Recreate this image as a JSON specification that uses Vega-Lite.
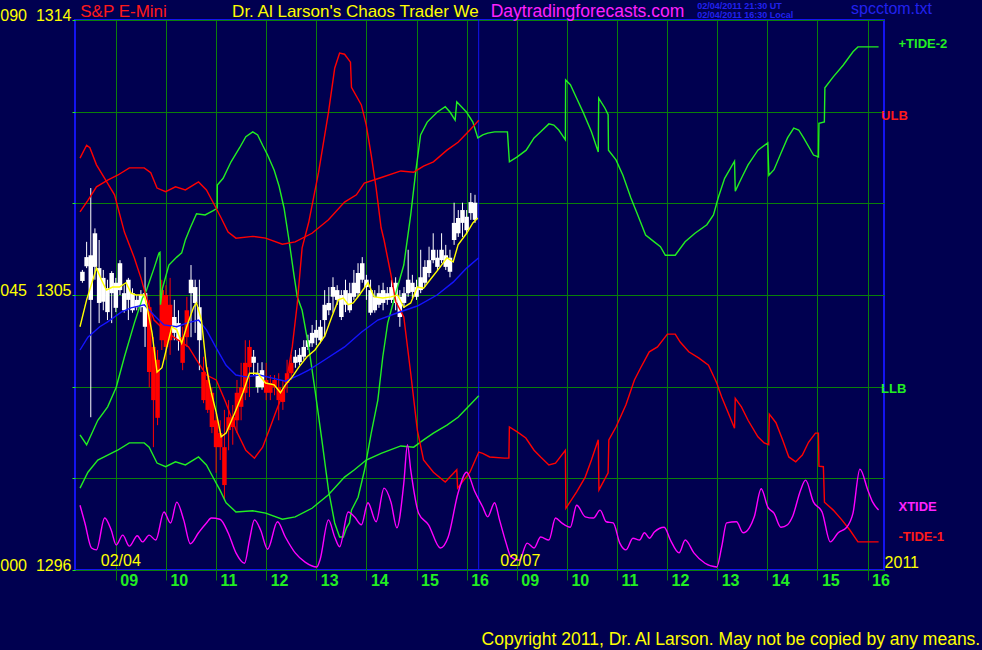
{
"$schema":"https://vega.github.io/schema/vega-lite/v6.json",
"width":809,"height":550,
"autosize":{"type":"none"},
"padding":{"left":75,"top":20,"right":98,"bottom":80},
"background":"#000050",
"config":{"view":{"stroke":"#1414f0","strokeWidth":2},"font":"Liberation Sans"},
"resolve":{"scale":{"color":"independent"}},
"datasets":{
"candles":[
{"t":0.333,"lo":47.0,"hi":49.1,"bt":48.8,"bb":47.3,"d":"bull"},
{"t":0.417,"lo":49.4,"hi":53.7,"bt":51.2,"bb":49.7,"d":"bull"},
{"t":0.5,"lo":25.0,"hi":62.5,"bt":51.5,"bb":44.2,"d":"bull"},
{"t":0.583,"lo":47.5,"hi":55.9,"bt":55.1,"bb":49.6,"d":"bull"},
{"t":0.667,"lo":40.4,"hi":54.0,"bt":49.4,"bb":43.7,"d":"bull"},
{"t":0.75,"lo":42.5,"hi":49.1,"bt":47.8,"bb":43.9,"d":"bull"},
{"t":0.833,"lo":40.9,"hi":47.5,"bt":46.1,"bb":42.2,"d":"bull"},
{"t":0.917,"lo":40.4,"hi":48.9,"bt":48.6,"bb":45.3,"d":"bull"},
{"t":1.0,"lo":42.2,"hi":47.8,"bt":47.0,"bb":42.9,"d":"bull"},
{"t":1.083,"lo":45.0,"hi":50.7,"bt":50.2,"bb":45.8,"d":"bull"},
{"t":1.167,"lo":42.1,"hi":46.6,"bt":45.3,"bb":42.5,"d":"bull"},
{"t":1.25,"lo":40.9,"hi":47.8,"bt":47.5,"bb":44.2,"d":"bull"},
{"t":1.333,"lo":42.1,"hi":46.1,"bt":45.3,"bb":42.5,"d":"bull"},
{"t":1.417,"lo":42.5,"hi":45.0,"bt":44.2,"bb":43.0,"d":"bull"},
{"t":1.5,"lo":42.2,"hi":45.8,"bt":45.0,"bb":43.0,"d":"bull"},
{"t":1.583,"lo":36.5,"hi":51.2,"bt":45.3,"bb":39.8,"d":"bull"},
{"t":1.667,"lo":29.9,"hi":44.2,"bt":43.0,"bb":32.4,"d":"bear"},
{"t":1.75,"lo":20.1,"hi":38.1,"bt":36.5,"bb":27.8,"d":"bear"},
{"t":1.833,"lo":23.7,"hi":36.0,"bt":34.4,"bb":24.9,"d":"bear"},
{"t":1.917,"lo":36.0,"hi":47.5,"bt":45.8,"bb":37.6,"d":"bear"},
{"t":2.0,"lo":34.4,"hi":46.6,"bt":45.0,"bb":36.5,"d":"bear"},
{"t":2.083,"lo":35.2,"hi":47.8,"bt":43.4,"bb":37.6,"d":"bear"},
{"t":2.167,"lo":37.6,"hi":44.2,"bt":41.4,"bb":38.8,"d":"bull"},
{"t":2.25,"lo":35.9,"hi":42.5,"bt":40.4,"bb":37.6,"d":"bull"},
{"t":2.333,"lo":32.7,"hi":39.8,"bt":38.1,"bb":33.9,"d":"bear"},
{"t":2.417,"lo":36.5,"hi":44.7,"bt":42.5,"bb":38.1,"d":"bear"},
{"t":2.5,"lo":38.1,"hi":49.9,"bt":47.5,"bb":45.3,"d":"bull"},
{"t":2.583,"lo":38.8,"hi":47.5,"bt":46.3,"bb":43.7,"d":"bull"},
{"t":2.667,"lo":32.7,"hi":47.5,"bt":43.0,"bb":37.6,"d":"bull"},
{"t":2.75,"lo":27.3,"hi":34.9,"bt":32.4,"bb":27.8,"d":"bear"},
{"t":2.833,"lo":25.7,"hi":33.2,"bt":31.1,"bb":26.2,"d":"bear"},
{"t":2.917,"lo":22.4,"hi":29.9,"bt":29.0,"bb":23.4,"d":"bear"},
{"t":3.0,"lo":15.9,"hi":25.7,"bt":24.5,"bb":20.1,"d":"bear"},
{"t":3.083,"lo":18.0,"hi":24.5,"bt":22.4,"bb":20.1,"d":"bear"},
{"t":3.167,"lo":11.5,"hi":26.2,"bt":20.1,"bb":13.9,"d":"bear"},
{"t":3.25,"lo":19.6,"hi":27.8,"bt":25.0,"bb":22.9,"d":"bear"},
{"t":3.333,"lo":20.5,"hi":27.0,"bt":25.0,"bb":23.4,"d":"bear"},
{"t":3.417,"lo":22.4,"hi":31.1,"bt":29.0,"bb":24.5,"d":"bear"},
{"t":3.5,"lo":24.5,"hi":33.9,"bt":29.9,"bb":26.7,"d":"bear"},
{"t":3.583,"lo":27.8,"hi":37.6,"bt":33.9,"bb":29.0,"d":"bear"},
{"t":3.667,"lo":28.3,"hi":37.6,"bt":36.5,"bb":33.2,"d":"bear"},
{"t":3.75,"lo":31.9,"hi":36.0,"bt":34.9,"bb":33.9,"d":"bull"},
{"t":3.833,"lo":29.0,"hi":33.9,"bt":32.2,"bb":29.9,"d":"bull"},
{"t":3.917,"lo":29.5,"hi":34.0,"bt":32.7,"bb":29.9,"d":"bull"},
{"t":4.0,"lo":27.8,"hi":33.9,"bt":31.1,"bb":29.0,"d":"bear"},
{"t":4.083,"lo":27.8,"hi":31.9,"bt":30.6,"bb":29.0,"d":"bear"},
{"t":4.167,"lo":28.6,"hi":31.9,"bt":31.1,"bb":29.9,"d":"bear"},
{"t":4.25,"lo":24.5,"hi":32.2,"bt":29.9,"bb":27.8,"d":"bear"},
{"t":4.333,"lo":26.2,"hi":31.1,"bt":29.5,"bb":27.5,"d":"bear"},
{"t":4.417,"lo":29.0,"hi":34.4,"bt":32.2,"bb":30.6,"d":"bear"},
{"t":4.5,"lo":31.1,"hi":35.2,"bt":33.9,"bb":32.2,"d":"bear"},
{"t":4.583,"lo":33.1,"hi":36.0,"bt":34.9,"bb":33.9,"d":"bull"},
{"t":4.667,"lo":33.5,"hi":36.3,"bt":35.2,"bb":34.0,"d":"bull"},
{"t":4.75,"lo":34.4,"hi":37.6,"bt":36.5,"bb":34.9,"d":"bull"},
{"t":4.833,"lo":36.0,"hi":38.5,"bt":37.6,"bb":36.5,"d":"bull"},
{"t":4.917,"lo":36.5,"hi":40.1,"bt":38.8,"bb":37.1,"d":"bull"},
{"t":5.0,"lo":36.8,"hi":40.9,"bt":39.3,"bb":38.0,"d":"bull"},
{"t":5.083,"lo":37.1,"hi":40.9,"bt":39.8,"bb":37.6,"d":"bull"},
{"t":5.167,"lo":38.1,"hi":45.8,"bt":43.4,"bb":40.9,"d":"bull"},
{"t":5.25,"lo":41.7,"hi":46.3,"bt":43.7,"bb":42.5,"d":"bull"},
{"t":5.333,"lo":42.1,"hi":47.9,"bt":46.3,"bb":44.7,"d":"bull"},
{"t":5.417,"lo":43.4,"hi":46.6,"bt":45.8,"bb":44.2,"d":"bull"},
{"t":5.5,"lo":40.9,"hi":45.8,"bt":45.0,"bb":41.4,"d":"bull"},
{"t":5.583,"lo":42.2,"hi":47.5,"bt":45.8,"bb":43.4,"d":"bull"},
{"t":5.667,"lo":42.1,"hi":47.0,"bt":45.3,"bb":42.5,"d":"bull"},
{"t":5.75,"lo":44.2,"hi":49.1,"bt":47.0,"bb":44.7,"d":"bull"},
{"t":5.833,"lo":44.7,"hi":50.2,"bt":48.6,"bb":45.3,"d":"bull"},
{"t":5.917,"lo":47.0,"hi":51.2,"bt":50.2,"bb":47.5,"d":"bull"},
{"t":6.0,"lo":44.2,"hi":48.3,"bt":47.5,"bb":46.3,"d":"bull"},
{"t":6.083,"lo":41.7,"hi":47.5,"bt":45.8,"bb":42.1,"d":"bull"},
{"t":6.167,"lo":42.1,"hi":45.8,"bt":44.7,"bb":42.5,"d":"bull"},
{"t":6.25,"lo":42.9,"hi":46.6,"bt":45.3,"bb":43.4,"d":"bull"},
{"t":6.333,"lo":42.5,"hi":47.0,"bt":45.8,"bb":43.7,"d":"bull"},
{"t":6.417,"lo":43.4,"hi":46.3,"bt":45.3,"bb":44.2,"d":"bull"},
{"t":6.5,"lo":43.7,"hi":47.5,"bt":46.3,"bb":44.2,"d":"bull"},
{"t":6.583,"lo":42.5,"hi":47.9,"bt":47.0,"bb":43.7,"d":"bull"},
{"t":6.667,"lo":39.8,"hi":45.8,"bt":44.7,"bb":41.4,"d":"bull"},
{"t":6.75,"lo":42.9,"hi":46.3,"bt":45.3,"bb":43.7,"d":"bull"},
{"t":6.833,"lo":44.7,"hi":52.4,"bt":47.5,"bb":45.3,"d":"bull"},
{"t":6.917,"lo":44.5,"hi":48.3,"bt":47.0,"bb":45.5,"d":"bull"},
{"t":7.0,"lo":44.2,"hi":47.5,"bt":46.3,"bb":44.7,"d":"bull"},
{"t":7.083,"lo":45.3,"hi":52.4,"bt":47.9,"bb":45.8,"d":"bull"},
{"t":7.167,"lo":46.3,"hi":50.7,"bt":49.6,"bb":47.0,"d":"bull"},
{"t":7.25,"lo":47.9,"hi":52.9,"bt":50.7,"bb":48.6,"d":"bull"},
{"t":7.333,"lo":50.2,"hi":55.1,"bt":52.4,"bb":50.7,"d":"bull"},
{"t":7.417,"lo":49.1,"hi":52.4,"bt":51.1,"bb":49.6,"d":"bull"},
{"t":7.5,"lo":50.2,"hi":55.1,"bt":52.4,"bb":50.7,"d":"bull"},
{"t":7.583,"lo":49.1,"hi":53.2,"bt":51.5,"bb":49.6,"d":"bull"},
{"t":7.667,"lo":47.9,"hi":52.4,"bt":51.1,"bb":48.8,"d":"bull"},
{"t":7.75,"lo":53.2,"hi":60.1,"bt":56.8,"bb":54.0,"d":"bull"},
{"t":7.833,"lo":54.5,"hi":58.9,"bt":57.6,"bb":55.1,"d":"bull"},
{"t":7.917,"lo":54.5,"hi":60.1,"bt":58.9,"bb":56.8,"d":"bull"},
{"t":8.0,"lo":55.1,"hi":58.9,"bt":57.8,"bb":55.6,"d":"bull"},
{"t":8.083,"lo":57.3,"hi":61.7,"bt":60.2,"bb":58.4,"d":"bull"},
{"t":8.167,"lo":56.8,"hi":61.4,"bt":60.1,"bb":57.3,"d":"bull"}
],
"tides":[
{"s":"tide2","t":0.285,"v":22.1},{"s":"tide2","t":0.417,"v":20.5},{"s":"tide2","t":0.64,"v":24.5},{"s":"tide2","t":0.837,"v":26.7},{"s":"tide2","t":1.008,"v":29.9},{"s":"tide2","t":1.172,"v":34.9},{"s":"tide2","t":1.369,"v":40.4},{"s":"tide2","t":1.532,"v":44.5},{"s":"tide2","t":1.599,"v":45.5},{"s":"tide2","t":1.763,"v":49.4},{"s":"tide2","t":1.862,"v":51.9},{"s":"tide2","t":1.881,"v":52.0},{"s":"tide2","t":1.891,"v":43.4},{"s":"tide2","t":1.93,"v":46.1},{"s":"tide2","t":2.059,"v":49.9},{"s":"tide2","t":2.216,"v":51.2},{"s":"tide2","t":2.314,"v":51.9},{"s":"tide2","t":2.387,"v":54.0},{"s":"tide2","t":2.486,"v":56.0},{"s":"tide2","t":2.61,"v":58.3},{"s":"tide2","t":2.781,"v":58.1},{"s":"tide2","t":2.944,"v":58.8},{"s":"tide2","t":3.023,"v":59.2},{"s":"tide2","t":3.025,"v":63.0},{"s":"tide2","t":3.141,"v":64.1},{"s":"tide2","t":3.299,"v":66.8},{"s":"tide2","t":3.47,"v":69.1},{"s":"tide2","t":3.594,"v":70.9},{"s":"tide2","t":3.732,"v":71.7},{"s":"tide2","t":3.83,"v":71.2},{"s":"tide2","t":3.929,"v":69.5},{"s":"tide2","t":4.028,"v":67.9},{"s":"tide2","t":4.16,"v":65.4},{"s":"tide2","t":4.258,"v":62.8},{"s":"tide2","t":4.357,"v":59.2},{"s":"tide2","t":4.455,"v":54.0},{"s":"tide2","t":4.554,"v":48.3},{"s":"tide2","t":4.62,"v":44.7},{"s":"tide2","t":4.717,"v":42.5},{"s":"tide2","t":4.849,"v":36.5},{"s":"tide2","t":4.973,"v":29.5},{"s":"tide2","t":5.111,"v":21.3},{"s":"tide2","t":5.243,"v":13.1},{"s":"tide2","t":5.367,"v":7.7},{"s":"tide2","t":5.465,"v":5.4},{"s":"tide2","t":5.538,"v":5.4},{"s":"tide2","t":5.603,"v":6.9},{"s":"tide2","t":5.662,"v":7.7},{"s":"tide2","t":5.702,"v":9.8},{"s":"tide2","t":5.834,"v":11.9},{"s":"tide2","t":5.964,"v":16.4},{"s":"tide2","t":6.096,"v":22.4},{"s":"tide2","t":6.228,"v":27.8},{"s":"tide2","t":6.327,"v":34.9},{"s":"tide2","t":6.425,"v":40.4},{"s":"tide2","t":6.569,"v":44.8},{"s":"tide2","t":6.746,"v":49.9},{"s":"tide2","t":6.884,"v":58.1},{"s":"tide2","t":6.983,"v":65.1},{"s":"tide2","t":7.081,"v":71.2},{"s":"tide2","t":7.213,"v":73.3},{"s":"tide2","t":7.41,"v":74.9},{"s":"tide2","t":7.573,"v":75.8},{"s":"tide2","t":7.671,"v":74.9},{"s":"tide2","t":7.77,"v":73.6},{"s":"tide2","t":7.803,"v":76.6},{"s":"tide2","t":8.0,"v":74.9},{"s":"tide2","t":8.124,"v":73.3},{"s":"tide2","t":8.223,"v":70.7},{"s":"tide2","t":8.321,"v":71.2},{"s":"tide2","t":8.42,"v":71.5},{"s":"tide2","t":8.558,"v":71.7},{"s":"tide2","t":8.814,"v":71.7},{"s":"tide2","t":8.853,"v":66.8},{"s":"tide2","t":9.01,"v":67.6},{"s":"tide2","t":9.188,"v":68.7},{"s":"tide2","t":9.345,"v":70.7},{"s":"tide2","t":9.477,"v":71.7},{"s":"tide2","t":9.641,"v":73.0},{"s":"tide2","t":9.74,"v":72.8},{"s":"tide2","t":9.838,"v":72.0},{"s":"tide2","t":9.97,"v":70.4},{"s":"tide2","t":9.975,"v":80.2},{"s":"tide2","t":10.07,"v":79.4},{"s":"tide2","t":10.195,"v":77.2},{"s":"tide2","t":10.33,"v":74.8},{"s":"tide2","t":10.49,"v":71.7},{"s":"tide2","t":10.626,"v":68.4},{"s":"tide2","t":10.635,"v":77.2},{"s":"tide2","t":10.758,"v":75.6},{"s":"tide2","t":10.823,"v":74.5},{"s":"tide2","t":10.83,"v":68.7},{"s":"tide2","t":10.98,"v":67.1},{"s":"tide2","t":11.118,"v":64.6},{"s":"tide2","t":11.276,"v":60.9},{"s":"tide2","t":11.414,"v":58.1},{"s":"tide2","t":11.571,"v":54.8},{"s":"tide2","t":11.743,"v":53.7},{"s":"tide2","t":11.867,"v":52.9},{"s":"tide2","t":11.965,"v":51.5},{"s":"tide2","t":12.162,"v":51.5},{"s":"tide2","t":12.359,"v":53.7},{"s":"tide2","t":12.556,"v":55.1},{"s":"tide2","t":12.793,"v":56.5},{"s":"tide2","t":12.925,"v":58.1},{"s":"tide2","t":13.023,"v":61.0},{"s":"tide2","t":13.148,"v":64.1},{"s":"tide2","t":13.345,"v":66.9},{"s":"tide2","t":13.36,"v":62.0},{"s":"tide2","t":13.483,"v":64.1},{"s":"tide2","t":13.615,"v":66.3},{"s":"tide2","t":13.812,"v":68.7},{"s":"tide2","t":14.009,"v":69.9},{"s":"tide2","t":14.03,"v":64.6},{"s":"tide2","t":14.133,"v":65.5},{"s":"tide2","t":14.271,"v":68.2},{"s":"tide2","t":14.403,"v":70.7},{"s":"tide2","t":14.527,"v":72.3},{"s":"tide2","t":14.626,"v":72.0},{"s":"tide2","t":14.724,"v":70.7},{"s":"tide2","t":14.921,"v":67.9},{"s":"tide2","t":15.02,"v":67.6},{"s":"tide2","t":15.03,"v":73.1},{"s":"tide2","t":15.138,"v":73.3},{"s":"tide2","t":15.148,"v":78.9},{"s":"tide2","t":15.315,"v":80.7},{"s":"tide2","t":15.512,"v":82.6},{"s":"tide2","t":15.709,"v":84.8},{"s":"tide2","t":15.808,"v":85.6},{"s":"tide2","t":16.22,"v":85.6},
{"s":"llb","t":0.285,"v":13.4},{"s":"llb","t":0.443,"v":16.0},{"s":"llb","t":0.64,"v":18.0},{"s":"llb","t":0.837,"v":18.8},{"s":"llb","t":1.034,"v":19.6},{"s":"llb","t":1.27,"v":20.8},{"s":"llb","t":1.566,"v":20.8},{"s":"llb","t":1.665,"v":20.1},{"s":"llb","t":1.822,"v":17.5},{"s":"llb","t":1.994,"v":16.9},{"s":"llb","t":2.191,"v":17.7},{"s":"llb","t":2.388,"v":17.2},{"s":"llb","t":2.65,"v":18.5},{"s":"llb","t":2.808,"v":17.2},{"s":"llb","t":2.944,"v":15.1},{"s":"llb","t":3.076,"v":13.1},{"s":"llb","t":3.2,"v":11.0},{"s":"llb","t":3.397,"v":9.5},{"s":"llb","t":3.732,"v":9.7},{"s":"llb","t":3.988,"v":9.3},{"s":"llb","t":4.323,"v":8.3},{"s":"llb","t":4.579,"v":8.7},{"s":"llb","t":4.914,"v":10.1},{"s":"llb","t":5.243,"v":12.3},{"s":"llb","t":5.564,"v":15.2},{"s":"llb","t":5.761,"v":16.4},{"s":"llb","t":5.997,"v":18.0},{"s":"llb","t":6.293,"v":19.1},{"s":"llb","t":6.687,"v":20.3},{"s":"llb","t":6.943,"v":20.1},{"s":"llb","t":7.14,"v":21.3},{"s":"llb","t":7.337,"v":22.4},{"s":"llb","t":7.607,"v":23.7},{"s":"llb","t":7.829,"v":25.0},{"s":"llb","t":8.065,"v":27.0},{"s":"llb","t":8.242,"v":28.5},
{"s":"ulb","t":0.285,"v":58.6},{"s":"ulb","t":0.443,"v":60.5},{"s":"ulb","t":0.614,"v":62.7},{"s":"ulb","t":0.837,"v":63.8},{"s":"ulb","t":1.034,"v":64.6},{"s":"ulb","t":1.27,"v":65.8},{"s":"ulb","t":1.566,"v":65.8},{"s":"ulb","t":1.697,"v":65.0},{"s":"ulb","t":1.822,"v":62.5},{"s":"ulb","t":1.994,"v":61.9},{"s":"ulb","t":2.191,"v":62.7},{"s":"ulb","t":2.388,"v":62.2},{"s":"ulb","t":2.65,"v":63.5},{"s":"ulb","t":2.808,"v":62.2},{"s":"ulb","t":2.944,"v":60.1},{"s":"ulb","t":3.102,"v":57.6},{"s":"ulb","t":3.24,"v":55.3},{"s":"ulb","t":3.397,"v":54.3},{"s":"ulb","t":3.732,"v":54.6},{"s":"ulb","t":3.988,"v":54.3},{"s":"ulb","t":4.323,"v":53.3},{"s":"ulb","t":4.579,"v":53.7},{"s":"ulb","t":4.914,"v":55.1},{"s":"ulb","t":5.243,"v":57.3},{"s":"ulb","t":5.564,"v":60.2},{"s":"ulb","t":5.8,"v":61.4},{"s":"ulb","t":5.958,"v":63.3},{"s":"ulb","t":6.254,"v":64.1},{"s":"ulb","t":6.687,"v":65.3},{"s":"ulb","t":6.943,"v":65.1},{"s":"ulb","t":7.14,"v":66.1},{"s":"ulb","t":7.337,"v":66.8},{"s":"ulb","t":7.607,"v":68.7},{"s":"ulb","t":7.829,"v":70.0},{"s":"ulb","t":8.065,"v":72.0},{"s":"ulb","t":8.242,"v":73.6},
{"s":"tide1","t":0.285,"v":67.4},{"s":"tide1","t":0.417,"v":69.5},{"s":"tide1","t":0.482,"v":69.1},{"s":"tide1","t":0.614,"v":66.3},{"s":"tide1","t":0.777,"v":64.1},{"s":"tide1","t":0.974,"v":61.4},{"s":"tide1","t":1.171,"v":55.3},{"s":"tide1","t":1.368,"v":51.1},{"s":"tide1","t":1.5,"v":47.8},{"s":"tide1","t":1.624,"v":44.2},{"s":"tide1","t":1.763,"v":40.9},{"s":"tide1","t":1.96,"v":39.3},{"s":"tide1","t":2.157,"v":38.1},{"s":"tide1","t":2.452,"v":36.5},{"s":"tide1","t":2.61,"v":34.4},{"s":"tide1","t":2.808,"v":31.9},{"s":"tide1","t":3.004,"v":31.1},{"s":"tide1","t":3.2,"v":27.3},{"s":"tide1","t":3.397,"v":22.9},{"s":"tide1","t":3.594,"v":19.6},{"s":"tide1","t":3.766,"v":18.3},{"s":"tide1","t":3.929,"v":20.1},{"s":"tide1","t":4.06,"v":22.9},{"s":"tide1","t":4.185,"v":25.7},{"s":"tide1","t":4.382,"v":29.9},{"s":"tide1","t":4.52,"v":36.5},{"s":"tide1","t":4.618,"v":43.4},{"s":"tide1","t":4.717,"v":52.7},{"s":"tide1","t":4.849,"v":56.9},{"s":"tide1","t":5.046,"v":65.1},{"s":"tide1","t":5.243,"v":74.9},{"s":"tide1","t":5.367,"v":82.1},{"s":"tide1","t":5.465,"v":84.6},{"s":"tide1","t":5.564,"v":84.4},{"s":"tide1","t":5.682,"v":83.1},{"s":"tide1","t":5.702,"v":79.0},{"s":"tide1","t":5.899,"v":76.1},{"s":"tide1","t":5.997,"v":72.8},{"s":"tide1","t":6.096,"v":67.9},{"s":"tide1","t":6.194,"v":62.5},{"s":"tide1","t":6.293,"v":56.0},{"s":"tide1","t":6.352,"v":54.0},{"s":"tide1","t":6.49,"v":48.3},{"s":"tide1","t":6.588,"v":43.9},{"s":"tide1","t":6.746,"v":41.4},{"s":"tide1","t":6.884,"v":32.2},{"s":"tide1","t":7.016,"v":22.9},{"s":"tide1","t":7.14,"v":18.0},{"s":"tide1","t":7.337,"v":16.0},{"s":"tide1","t":7.573,"v":14.4},{"s":"tide1","t":7.803,"v":16.4},{"s":"tide1","t":7.82,"v":13.4},{"s":"tide1","t":8.065,"v":16.0},{"s":"tide1","t":8.242,"v":19.3},{"s":"tide1","t":8.321,"v":19.1},{"s":"tide1","t":8.459,"v":18.5},{"s":"tide1","t":8.755,"v":18.3},{"s":"tide1","t":8.843,"v":18.3},{"s":"tide1","t":8.853,"v":23.4},{"s":"tide1","t":9.01,"v":22.6},{"s":"tide1","t":9.181,"v":21.6},{"s":"tide1","t":9.345,"v":19.6},{"s":"tide1","t":9.477,"v":18.5},{"s":"tide1","t":9.641,"v":17.2},{"s":"tide1","t":9.773,"v":17.5},{"s":"tide1","t":9.97,"v":19.6},{"s":"tide1","t":9.98,"v":10.1},{"s":"tide1","t":10.195,"v":12.8},{"s":"tide1","t":10.366,"v":15.2},{"s":"tide1","t":10.49,"v":18.0},{"s":"tide1","t":10.626,"v":21.3},{"s":"tide1","t":10.64,"v":13.1},{"s":"tide1","t":10.823,"v":15.9},{"s":"tide1","t":10.837,"v":21.3},{"s":"tide1","t":10.98,"v":23.4},{"s":"tide1","t":11.177,"v":27.0},{"s":"tide1","t":11.348,"v":31.1},{"s":"tide1","t":11.473,"v":33.1},{"s":"tide1","t":11.644,"v":35.7},{"s":"tide1","t":11.808,"v":36.5},{"s":"tide1","t":12.005,"v":38.6},{"s":"tide1","t":12.162,"v":38.6},{"s":"tide1","t":12.261,"v":37.3},{"s":"tide1","t":12.432,"v":35.7},{"s":"tide1","t":12.629,"v":34.7},{"s":"tide1","t":12.826,"v":33.5},{"s":"tide1","t":12.99,"v":30.6},{"s":"tide1","t":13.089,"v":28.3},{"s":"tide1","t":13.221,"v":25.7},{"s":"tide1","t":13.345,"v":23.2},{"s":"tide1","t":13.36,"v":28.1},{"s":"tide1","t":13.483,"v":26.7},{"s":"tide1","t":13.615,"v":24.5},{"s":"tide1","t":13.812,"v":21.8},{"s":"tide1","t":13.936,"v":20.8},{"s":"tide1","t":14.028,"v":20.5},{"s":"tide1","t":14.04,"v":25.5},{"s":"tide1","t":14.172,"v":24.1},{"s":"tide1","t":14.304,"v":21.3},{"s":"tide1","t":14.428,"v":18.5},{"s":"tide1","t":14.566,"v":17.7},{"s":"tide1","t":14.698,"v":18.8},{"s":"tide1","t":14.822,"v":20.9},{"s":"tide1","t":14.96,"v":22.4},{"s":"tide1","t":15.019,"v":22.4},{"s":"tide1","t":15.03,"v":17.0},{"s":"tide1","t":15.118,"v":16.9},{"s":"tide1","t":15.14,"v":11.1},{"s":"tide1","t":15.315,"v":9.8},{"s":"tide1","t":15.486,"v":8.2},{"s":"tide1","t":15.65,"v":6.5},{"s":"tide1","t":15.808,"v":4.6},{"s":"tide1","t":16.22,"v":4.6},
{"s":"xtide","t":0.285,"v":10.6},{"s":"xtide","t":0.383,"v":7.7},{"s":"xtide","t":0.515,"v":3.6},{"s":"xtide","t":0.614,"v":3.3},{"s":"xtide","t":0.777,"v":8.5},{"s":"xtide","t":0.909,"v":6.5},{"s":"xtide","t":1.008,"v":4.1},{"s":"xtide","t":1.138,"v":5.7},{"s":"xtide","t":1.27,"v":3.9},{"s":"xtide","t":1.428,"v":5.6},{"s":"xtide","t":1.532,"v":4.6},{"s":"xtide","t":1.665,"v":5.7},{"s":"xtide","t":1.797,"v":4.9},{"s":"xtide","t":1.96,"v":9.5},{"s":"xtide","t":2.092,"v":7.7},{"s":"xtide","t":2.216,"v":11.1},{"s":"xtide","t":2.354,"v":8.2},{"s":"xtide","t":2.486,"v":4.3},{"s":"xtide","t":2.65,"v":6.1},{"s":"xtide","t":2.808,"v":7.7},{"s":"xtide","t":2.906,"v":8.5},{"s":"xtide","t":3.077,"v":8.3},{"s":"xtide","t":3.24,"v":6.1},{"s":"xtide","t":3.397,"v":2.8},{"s":"xtide","t":3.569,"v":1.1},{"s":"xtide","t":3.667,"v":4.9},{"s":"xtide","t":3.766,"v":8.2},{"s":"xtide","t":3.89,"v":6.5},{"s":"xtide","t":4.028,"v":3.4},{"s":"xtide","t":4.225,"v":7.9},{"s":"xtide","t":4.382,"v":5.4},{"s":"xtide","t":4.579,"v":2.8},{"s":"xtide","t":4.776,"v":1.3},{"s":"xtide","t":5.013,"v":0.5},{"s":"xtide","t":5.072,"v":1.6},{"s":"xtide","t":5.243,"v":8.2},{"s":"xtide","t":5.367,"v":5.4},{"s":"xtide","t":5.465,"v":3.8},{"s":"xtide","t":5.637,"v":9.5},{"s":"xtide","t":5.761,"v":8.7},{"s":"xtide","t":5.899,"v":7.4},{"s":"xtide","t":6.031,"v":11.0},{"s":"xtide","t":6.194,"v":7.9},{"s":"xtide","t":6.352,"v":13.4},{"s":"xtide","t":6.49,"v":11.1},{"s":"xtide","t":6.608,"v":6.9},{"s":"xtide","t":6.746,"v":14.2},{"s":"xtide","t":6.819,"v":20.5},{"s":"xtide","t":6.884,"v":16.4},{"s":"xtide","t":7.042,"v":9.3},{"s":"xtide","t":7.239,"v":7.4},{"s":"xtide","t":7.474,"v":3.6},{"s":"xtide","t":7.632,"v":5.4},{"s":"xtide","t":7.829,"v":12.6},{"s":"xtide","t":8.0,"v":16.0},{"s":"xtide","t":8.164,"v":12.8},{"s":"xtide","t":8.321,"v":10.3},{"s":"xtide","t":8.42,"v":8.7},{"s":"xtide","t":8.558,"v":11.0},{"s":"xtide","t":8.656,"v":8.2},{"s":"xtide","t":8.788,"v":4.4},{"s":"xtide","t":8.887,"v":2.1},{"s":"xtide","t":9.05,"v":1.6},{"s":"xtide","t":9.208,"v":4.4},{"s":"xtide","t":9.345,"v":3.6},{"s":"xtide","t":9.477,"v":5.4},{"s":"xtide","t":9.641,"v":4.9},{"s":"xtide","t":9.773,"v":8.5},{"s":"xtide","t":9.897,"v":7.7},{"s":"xtide","t":10.069,"v":7.0},{"s":"xtide","t":10.195,"v":10.6},{"s":"xtide","t":10.366,"v":8.7},{"s":"xtide","t":10.53,"v":8.5},{"s":"xtide","t":10.662,"v":9.8},{"s":"xtide","t":10.786,"v":7.9},{"s":"xtide","t":10.924,"v":7.7},{"s":"xtide","t":11.056,"v":4.4},{"s":"xtide","t":11.18,"v":3.3},{"s":"xtide","t":11.318,"v":5.2},{"s":"xtide","t":11.45,"v":4.9},{"s":"xtide","t":11.548,"v":6.1},{"s":"xtide","t":11.647,"v":5.2},{"s":"xtide","t":11.745,"v":6.2},{"s":"xtide","t":11.942,"v":7.0},{"s":"xtide","t":12.067,"v":4.9},{"s":"xtide","t":12.238,"v":2.8},{"s":"xtide","t":12.362,"v":4.9},{"s":"xtide","t":12.534,"v":2.8},{"s":"xtide","t":12.756,"v":1.1},{"s":"xtide","t":12.99,"v":0.5},{"s":"xtide","t":13.089,"v":3.8},{"s":"xtide","t":13.187,"v":7.7},{"s":"xtide","t":13.384,"v":7.9},{"s":"xtide","t":13.516,"v":6.1},{"s":"xtide","t":13.64,"v":6.9},{"s":"xtide","t":13.739,"v":8.7},{"s":"xtide","t":13.877,"v":13.3},{"s":"xtide","t":14.009,"v":10.3},{"s":"xtide","t":14.133,"v":9.3},{"s":"xtide","t":14.271,"v":7.0},{"s":"xtide","t":14.403,"v":7.4},{"s":"xtide","t":14.501,"v":8.7},{"s":"xtide","t":14.665,"v":13.1},{"s":"xtide","t":14.763,"v":14.7},{"s":"xtide","t":14.921,"v":11.1},{"s":"xtide","t":15.092,"v":9.5},{"s":"xtide","t":15.256,"v":4.6},{"s":"xtide","t":15.414,"v":6.1},{"s":"xtide","t":15.585,"v":7.0},{"s":"xtide","t":15.709,"v":9.3},{"s":"xtide","t":15.847,"v":16.5},{"s":"xtide","t":16.004,"v":13.1},{"s":"xtide","t":16.102,"v":11.1},{"s":"xtide","t":16.22,"v":9.8},
{"s":"ma","t":0.285,"v":36.0},{"s":"ma","t":0.443,"v":38.1},{"s":"ma","t":0.679,"v":39.8},{"s":"ma","t":0.837,"v":40.6},{"s":"ma","t":1.106,"v":42.2},{"s":"ma","t":1.303,"v":42.9},{"s":"ma","t":1.566,"v":43.4},{"s":"ma","t":1.763,"v":41.7},{"s":"ma","t":1.96,"v":40.1},{"s":"ma","t":2.216,"v":39.8},{"s":"ma","t":2.413,"v":40.4},{"s":"ma","t":2.65,"v":40.9},{"s":"ma","t":2.808,"v":39.3},{"s":"ma","t":3.005,"v":36.3},{"s":"ma","t":3.2,"v":33.5},{"s":"ma","t":3.397,"v":31.9},{"s":"ma","t":3.594,"v":31.6},{"s":"ma","t":3.864,"v":31.9},{"s":"ma","t":4.126,"v":31.4},{"s":"ma","t":4.382,"v":30.9},{"s":"ma","t":4.652,"v":31.9},{"s":"ma","t":4.849,"v":32.7},{"s":"ma","t":5.17,"v":34.4},{"s":"ma","t":5.564,"v":36.5},{"s":"ma","t":5.899,"v":38.9},{"s":"ma","t":6.228,"v":40.9},{"s":"ma","t":6.622,"v":42.1},{"s":"ma","t":7.016,"v":43.2},{"s":"ma","t":7.41,"v":45.0},{"s":"ma","t":7.731,"v":47.1},{"s":"ma","t":8.0,"v":49.4},{"s":"ma","t":8.242,"v":51.1},
{"s":"fast","t":0.285,"v":39.8},{"s":"fast","t":0.417,"v":44.2},{"s":"fast","t":0.614,"v":49.4},{"s":"fast","t":0.712,"v":47.5},{"s":"fast","t":0.811,"v":45.8},{"s":"fast","t":0.935,"v":46.3},{"s":"fast","t":1.073,"v":46.3},{"s":"fast","t":1.205,"v":47.0},{"s":"fast","t":1.303,"v":45.3},{"s":"fast","t":1.402,"v":45.0},{"s":"fast","t":1.566,"v":45.0},{"s":"fast","t":1.624,"v":43.0},{"s":"fast","t":1.723,"v":38.8},{"s":"fast","t":1.822,"v":32.4},{"s":"fast","t":1.92,"v":33.1},{"s":"fast","t":2.019,"v":36.5},{"s":"fast","t":2.117,"v":39.8},{"s":"fast","t":2.216,"v":39.3},{"s":"fast","t":2.314,"v":37.1},{"s":"fast","t":2.413,"v":39.8},{"s":"fast","t":2.551,"v":43.0},{"s":"fast","t":2.61,"v":43.7},{"s":"fast","t":2.709,"v":40.9},{"s":"fast","t":2.808,"v":33.2},{"s":"fast","t":2.906,"v":29.0},{"s":"fast","t":3.005,"v":25.7},{"s":"fast","t":3.102,"v":21.8},{"s":"fast","t":3.2,"v":22.4},{"s":"fast","t":3.372,"v":25.7},{"s":"fast","t":3.535,"v":29.0},{"s":"fast","t":3.667,"v":32.2},{"s":"fast","t":3.83,"v":32.2},{"s":"fast","t":3.988,"v":30.6},{"s":"fast","t":4.16,"v":30.3},{"s":"fast","t":4.284,"v":29.0},{"s":"fast","t":4.382,"v":30.3},{"s":"fast","t":4.52,"v":31.6},{"s":"fast","t":4.652,"v":33.2},{"s":"fast","t":4.815,"v":34.9},{"s":"fast","t":4.973,"v":36.0},{"s":"fast","t":5.17,"v":38.3},{"s":"fast","t":5.308,"v":41.4},{"s":"fast","t":5.44,"v":44.2},{"s":"fast","t":5.539,"v":44.5},{"s":"fast","t":5.637,"v":43.4},{"s":"fast","t":5.736,"v":43.7},{"s":"fast","t":5.86,"v":45.0},{"s":"fast","t":6.031,"v":47.0},{"s":"fast","t":6.155,"v":44.7},{"s":"fast","t":6.327,"v":44.5},{"s":"fast","t":6.49,"v":44.7},{"s":"fast","t":6.622,"v":45.0},{"s":"fast","t":6.746,"v":43.0},{"s":"fast","t":6.884,"v":43.7},{"s":"fast","t":7.016,"v":46.3},{"s":"fast","t":7.14,"v":46.1},{"s":"fast","t":7.311,"v":47.9},{"s":"fast","t":7.474,"v":49.6},{"s":"fast","t":7.606,"v":51.1},{"s":"fast","t":7.731,"v":50.4},{"s":"fast","t":7.829,"v":53.2},{"s":"fast","t":8.0,"v":55.1},{"s":"fast","t":8.124,"v":56.8},{"s":"fast","t":8.223,"v":57.6}
],
"notes":[
{"role":"hred","t":0.29,"v":90.5,"text":"S&P E-Mini"},
{"role":"hyel","t":3.32,"v":90.5,"text":"Dr. Al Larson's Chaos Trader We"},
{"role":"hmag","t":8.48,"v":90.5,"text":"Daytradingforecasts.com"},
{"role":"stamp","t":12.6,"v":91.72,"text":"02/04/2011 21:30 UT"},
{"role":"stamp","t":12.6,"v":90.28,"text":"02/04/2011 16:30 Local"},
{"role":"file","t":15.67,"v":90.98,"text":"spcctom.txt"},
{"role":"lgreen","t":16.617,"v":85.4,"text":"+TIDE-2"},
{"role":"lred","t":16.27,"v":73.6,"text":"ULB"},
{"role":"lgreen","t":16.27,"v":29.0,"text":"LLB"},
{"role":"lmag","t":16.617,"v":9.65,"text":"XTIDE"},
{"role":"lred","t":16.617,"v":4.75,"text":"-TIDE-1"},
{"role":"date","t":0.699,"v":0.65,"text":"02/04"},
{"role":"date","t":8.672,"v":0.65,"text":"02/07"},
{"role":"date","t":16.34,"v":0.33,"text":"2011"},
{"role":"copy","t":8.297,"v":-12.3,"text":"Copyright 2011, Dr. Al Larson. May not be copied by any means."}
]
},
"layer":[
{"data":{"name":"candles"},
 "mark":{"type":"rule","strokeWidth":1},
 "encoding":{
  "x":{"field":"t","type":"quantitative","scale":{"domain":[0.285,16.228],"nice":false,"zero":false},
   "axis":{"values":[1,2,3,4,5,6,7,8,9,10,11,12,13,14,15,16],"title":null,"grid":true,"gridColor":"#0a800a","gridOpacity":1,"gridWidth":1,"domain":false,"tickColor":"#0a800a","tickSize":10,"tickWidth":1,
    "labelExpr":"['09','10','11','12','13','14','15','16'][(datum.value-1)%8]","labelAlign":"left","labelBaseline":"top","labelOffset":4,"labelPadding":-8,"labelColor":"#22ee22","labelFont":"Liberation Sans","labelFontSize":16,"labelFontWeight":"bold","labelFlush":false,"labelOverlap":false,"labelBound":false}},
  "y":{"field":"lo","type":"quantitative","scale":{"domain":[0,90],"nice":false,"zero":false},
   "axis":{"values":[0,15,30,45,60,75,90],"title":null,"grid":true,"gridColor":"#0a800a","gridOpacity":1,"gridWidth":1,"domain":false,"tickColor":"#22ee22","tickSize":3,"tickWidth":1,
    "labelExpr":"datum.value==90?'090\u00a0 1314':datum.value==45?'045\u00a0 1305':datum.value==0?'000\u00a0 1296':''","labelBaseline":"alphabetic","labelPadding":1,"labelColor":"#ffff00","labelFont":"Liberation Sans","labelFontSize":16,"labelFlush":false,"labelOverlap":false,"labelBound":false}},
  "y2":{"field":"hi"},
  "color":{"field":"d","type":"nominal","scale":{"domain":["bull","bear"],"range":["#ffffff","#ff0000"]},"legend":null}
 }},
{"data":{"name":"candles"},
 "mark":{"type":"bar","size":4.5},
 "encoding":{
  "x":{"field":"t","type":"quantitative"},
  "y":{"field":"bb","type":"quantitative"},
  "y2":{"field":"bt"},
  "color":{"field":"d","type":"nominal","scale":{"domain":["bull","bear"],"range":["#ffffff","#ff0000"]},"legend":null}
 }},
{"data":{"values":[{"t":8.24}]},
 "mark":{"type":"rule","color":"#1414f0","strokeWidth":1},
 "encoding":{"x":{"field":"t","type":"quantitative"}}},
{"data":{"name":"tides"},"transform":[{"filter":"datum.s!='xtide'"}],
 "mark":{"type":"line","strokeWidth":1.4},
 "encoding":{
  "x":{"field":"t","type":"quantitative"},
  "y":{"field":"v","type":"quantitative"},
  "color":{"field":"s","type":"nominal","scale":{"domain":["llb","ulb","tide2","tide1","ma","fast"],"range":["#22ee22","#ff0000","#22ee22","#ff0000","#1414ff","#ffff00"]},"legend":null}
 }},
{"data":{"name":"tides"},"transform":[{"filter":"datum.s=='xtide'"}],
 "mark":{"type":"line","strokeWidth":1.4,"color":"#ff00ff","interpolate":"monotone"},
 "encoding":{
  "x":{"field":"t","type":"quantitative"},
  "y":{"field":"v","type":"quantitative"}
 }},
{"data":{"name":"notes"},"transform":[{"filter":"datum.role=='hred'"}],
 "mark":{"type":"text","align":"left","baseline":"alphabetic","color":"#ff1a1a","fontSize":17,"font":"Liberation Sans"},
 "encoding":{"x":{"field":"t","type":"quantitative"},"y":{"field":"v","type":"quantitative"},"text":{"field":"text"}}},
{"data":{"name":"notes"},"transform":[{"filter":"datum.role=='hyel'"}],
 "mark":{"type":"text","align":"left","baseline":"alphabetic","color":"#ffff00","fontSize":17,"font":"Liberation Sans"},
 "encoding":{"x":{"field":"t","type":"quantitative"},"y":{"field":"v","type":"quantitative"},"text":{"field":"text"}}},
{"data":{"name":"notes"},"transform":[{"filter":"datum.role=='hmag'"}],
 "mark":{"type":"text","align":"left","baseline":"alphabetic","color":"#ff22ff","fontSize":17.5,"font":"Liberation Sans"},
 "encoding":{"x":{"field":"t","type":"quantitative"},"y":{"field":"v","type":"quantitative"},"text":{"field":"text"}}},
{"data":{"name":"notes"},"transform":[{"filter":"datum.role=='stamp'"}],
 "mark":{"type":"text","align":"left","baseline":"alphabetic","color":"#2222ee","fontSize":9,"fontWeight":"bold","font":"Liberation Sans"},
 "encoding":{"x":{"field":"t","type":"quantitative"},"y":{"field":"v","type":"quantitative"},"text":{"field":"text"}}},
{"data":{"name":"notes"},"transform":[{"filter":"datum.role=='file'"}],
 "mark":{"type":"text","align":"left","baseline":"alphabetic","color":"#2222ee","fontSize":16,"font":"Liberation Sans"},
 "encoding":{"x":{"field":"t","type":"quantitative"},"y":{"field":"v","type":"quantitative"},"text":{"field":"text"}}},
{"data":{"name":"notes"},"transform":[{"filter":"datum.role=='lgreen'"}],
 "mark":{"type":"text","align":"left","baseline":"alphabetic","color":"#22ee22","fontSize":13,"fontWeight":"bold","font":"Liberation Sans"},
 "encoding":{"x":{"field":"t","type":"quantitative"},"y":{"field":"v","type":"quantitative"},"text":{"field":"text"}}},
{"data":{"name":"notes"},"transform":[{"filter":"datum.role=='lred'"}],
 "mark":{"type":"text","align":"left","baseline":"alphabetic","color":"#ff1a1a","fontSize":13,"fontWeight":"bold","font":"Liberation Sans"},
 "encoding":{"x":{"field":"t","type":"quantitative"},"y":{"field":"v","type":"quantitative"},"text":{"field":"text"}}},
{"data":{"name":"notes"},"transform":[{"filter":"datum.role=='lmag'"}],
 "mark":{"type":"text","align":"left","baseline":"alphabetic","color":"#ff22ff","fontSize":13,"fontWeight":"bold","font":"Liberation Sans"},
 "encoding":{"x":{"field":"t","type":"quantitative"},"y":{"field":"v","type":"quantitative"},"text":{"field":"text"}}},
{"data":{"name":"notes"},"transform":[{"filter":"datum.role=='date'"}],
 "mark":{"type":"text","align":"left","baseline":"alphabetic","color":"#ffff00","fontSize":16,"font":"Liberation Sans"},
 "encoding":{"x":{"field":"t","type":"quantitative"},"y":{"field":"v","type":"quantitative"},"text":{"field":"text"}}},
{"data":{"name":"notes"},"transform":[{"filter":"datum.role=='copy'"}],
 "mark":{"type":"text","align":"left","baseline":"alphabetic","color":"#ffff00","fontSize":17.5,"font":"Liberation Sans"},
 "encoding":{"x":{"field":"t","type":"quantitative"},"y":{"field":"v","type":"quantitative"},"text":{"field":"text"}}}
]
}
